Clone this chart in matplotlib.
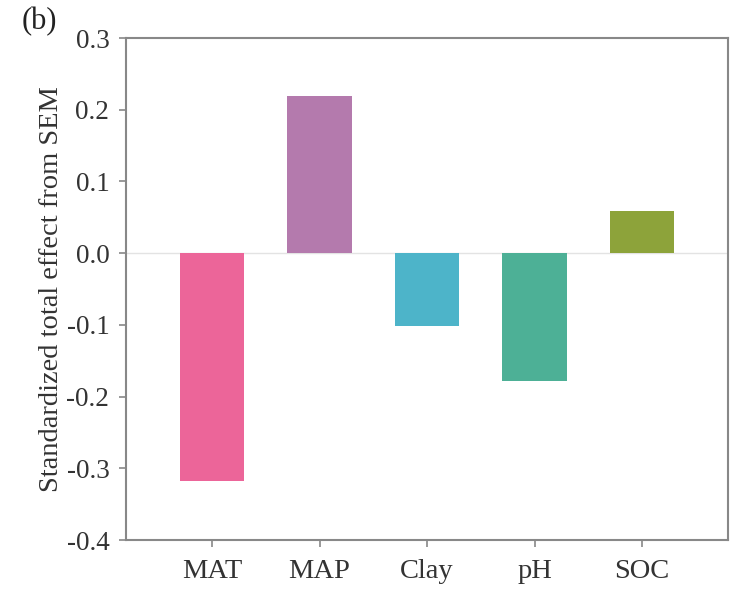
import matplotlib
matplotlib.use("Agg")
import matplotlib.pyplot as plt

# ---------------- DATA ----------------
categories = ["MAT", "MAP", "Clay", "pH", "SOC"]
effects = [-0.318, 0.219, -0.102, -0.178, 0.059]
colors = ["#EC6599", "#B47AAD", "#4DB4C9", "#4DB096", "#8DA33A"]
yticks = [-0.4, -0.3, -0.2, -0.1, 0.0, 0.1, 0.2, 0.3]

plt.rcParams["font.family"] = ["Liberation Serif", "DejaVu Serif"]

fig = plt.figure(figsize=(7.43, 5.98), dpi=100)
ax = fig.add_axes([126 / 743, 1 - 540 / 598, (728 - 126) / 743, (540 - 38) / 598])

x = range(len(categories))
ax.axhline(0, color="#e3e3e3", lw=1.0, zorder=0)
ax.bar(x, effects, width=0.6, color=colors, zorder=2)

ax.set_xlim(-0.8, 4.8)
ax.set_ylim(-0.4, 0.3)
ax.set_xticks(list(x))
ax.set_xticklabels(categories)
ax.set_yticks(yticks)
ax.set_yticklabels([f"{v:.1f}" for v in yticks])
ax.tick_params(colors="#333333", length=5, width=1.2, direction="out", pad=8)
ax.tick_params(axis="both", color="#888888")
ax.tick_params(axis="x", labelsize=20.5, pad=9)
ax.tick_params(axis="y", labelsize=19.5, pad=7)

for s in ax.spines.values():
    s.set_color("#888888")
    s.set_linewidth(1.5)

ax.set_ylabel("Standardized total effect from SEM", fontsize=20.5, color="#333333", labelpad=2)
fig.text(22 / 743, 1 - 22 / 598, "(b)", fontsize=22, color="#222222", va="center", ha="left")

fig.savefig("out.png", dpi=100)
